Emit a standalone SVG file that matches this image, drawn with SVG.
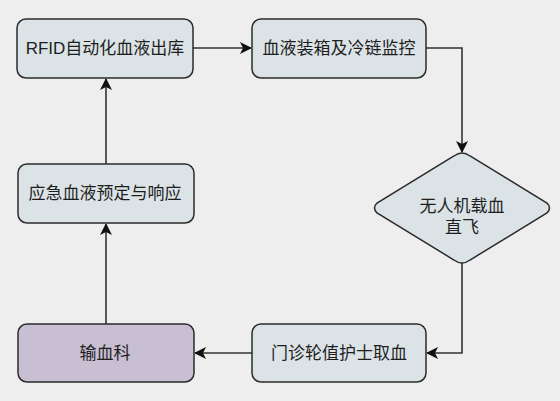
<svg xmlns="http://www.w3.org/2000/svg" width="560" height="401" viewBox="0 0 560 401">
<style>
.box{fill:#dce3e7;stroke:#2b2b2b;stroke-width:1.5}
.purple{fill:#c8bfd2;stroke:#2b2b2b;stroke-width:1.5}
.t{font-family:"Liberation Sans","Noto Sans CJK SC",sans-serif;font-size:17px;fill:#1e1e1e;text-anchor:middle;dominant-baseline:central}
.c{fill:none;stroke:#333;stroke-width:1.6}
</style>
<defs>
<marker id="ah" viewBox="0 0 12 12" refX="11" refY="6" markerWidth="12" markerHeight="12" markerUnits="userSpaceOnUse" orient="auto">
<path d="M0,0 L12,6 L0,12 L3,6 Z" fill="#111"/>
</marker>
</defs>
<rect width="560" height="401" fill="#eeeeee"/>
<g id="connectors">
<path class="c" d="M193,48 L251,48" marker-end="url(#ah)"/>
<path class="c" d="M426,48 L462,48 L462,152" marker-end="url(#ah)"/>
<path class="c" d="M462,263 L462,353 L427,353" marker-end="url(#ah)"/>
<path class="c" d="M252,353 L195,353" marker-end="url(#ah)"/>
<path class="c" d="M106,324 L106,224" marker-end="url(#ah)"/>
<path class="c" d="M106,164 L106,79" marker-end="url(#ah)"/>
</g>
<g id="n1">
<rect class="box" x="17" y="19" width="176" height="59" rx="9"/>
<text class="t" x="105" y="48.5">RFID自动化血液出库</text>
</g>
<g id="n2">
<rect class="box" x="252" y="19" width="174" height="59" rx="9"/>
<text class="t" x="339" y="48.5">血液装箱及冷链监控</text>
</g>
<g id="n3">
<path class="box" d="M462,153 Q466,153 470,156 L547,203 Q552,208 547,213 L470,260 Q466,263 462,263 Q458,263 454,260 L377,213 Q372,208 377,203 L454,156 Q458,153 462,153 Z"/>
<text class="t" x="462" y="206">无人机载血</text>
<text class="t" x="462" y="227">直飞</text>
</g>
<g id="n4">
<rect class="box" x="252" y="324" width="174" height="58" rx="9"/>
<text class="t" x="339" y="353">门诊轮值护士取血</text>
</g>
<g id="n5">
<rect class="purple" x="18" y="324" width="176" height="58" rx="9"/>
<text class="t" x="105" y="353">输血科</text>
</g>
<g id="n6">
<rect class="box" x="18" y="164" width="176" height="59" rx="9"/>
<text class="t" x="105" y="193.5">应急血液预定与响应</text>
</g>
</svg>
